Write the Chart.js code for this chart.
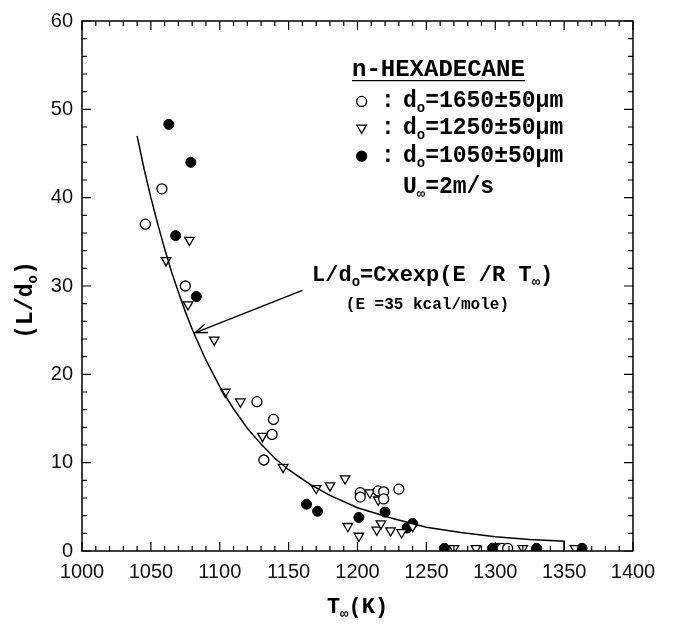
<!DOCTYPE html>
<html>
<head>
<meta charset="utf-8">
<script src="https://cdn.jsdelivr.net/npm/chart.js@4.4.0/dist/chart.umd.min.js"></script>
<style>
html, body { margin: 0; padding: 0; background: #fff; }
canvas { display: block; }
</style>
</head>
<body>
<canvas id="chart" width="675" height="627"></canvas>
<script>
// d0 = 1650 +- 50 um (open circles)
const circleT = [1046, 1058, 1075, 1127, 1132, 1138, 1139, 1202, 1202, 1215, 1219, 1219, 1230, 1305, 1309];
const circleL = [37.0, 41.0, 30.0, 16.9, 10.3, 13.2, 14.9, 6.6, 6.1, 6.8, 6.7, 5.9, 7.0, 0.3, 0.3];

// d0 = 1250 +- 50 um (open triangles)
const triT = [1061, 1078, 1077, 1096, 1104, 1115, 1131, 1146, 1170, 1180, 1191, 1193, 1201, 1209, 1214, 1215, 1217, 1224, 1232, 1240, 1270, 1286, 1320, 1358];
const triL = [32.9, 35.2, 27.9, 23.9, 18.0, 16.9, 13.0, 9.5, 7.1, 7.4, 8.2, 2.8, 1.7, 6.6, 2.4, 5.8, 3.1, 2.3, 2.1, 2.8, 0.3, 0.3, 0.3, 0.3];

// d0 = 1050 +- 50 um (filled circles)
const dotT = [1063, 1079, 1068, 1083, 1163, 1171, 1201, 1220, 1236, 1240, 1263, 1298, 1302, 1330, 1363];
const dotL = [48.3, 44.0, 35.7, 28.8, 5.3, 4.5, 3.8, 4.4, 2.6, 3.1, 0.3, 0.3, 0.3, 0.3, 0.3];

// fitted curve L/d0 = C exp(E/RT)
const curveT = [1040, 1045, 1050, 1055, 1060, 1065, 1070, 1075, 1080, 1090, 1100, 1110, 1120, 1130, 1140, 1150, 1165, 1180, 1200, 1225, 1250, 1275, 1300, 1325, 1350, 1350];
const curveL = [47.0, 43.3, 40.0, 37.0, 34.2, 31.6, 29.3, 27.1, 25.1, 21.6, 18.6, 16.1, 13.9, 12.1, 10.5, 9.2, 7.6, 6.3, 4.9, 3.7, 2.7, 2.1, 1.6, 1.3, 1.1, 0];

const xTicks = [1000, 1050, 1100, 1150, 1200, 1250, 1300, 1350, 1400];
const yTicks = [0, 10, 20, 30, 40, 50, 60];

const pts = (xs, ys) => xs.map((x, i) => ({ x: x, y: ys[i] }));

const MONO = '"Liberation Mono", "DejaVu Sans Mono", monospace';

// draws text where parts with sub:true are lowered and smaller
function drawParts(ctx, parts, x, y, size, weight) {
  ctx.textAlign = 'left';
  ctx.textBaseline = 'middle';
  for (const p of parts) {
    if (p.sub) {
      ctx.font = weight + ' ' + Math.round(size * 0.62) + 'px ' + MONO;
      ctx.fillText(p.t, x, y + size * 0.32);
    } else {
      ctx.font = weight + ' ' + size + 'px ' + MONO;
      ctx.fillText(p.t, x, y);
    }
    x += ctx.measureText(p.t).width;
  }
  return x;
}

function partsWidth(ctx, parts, size, weight) {
  let w = 0;
  for (const p of parts) {
    ctx.font = weight + ' ' + (p.sub ? Math.round(size * 0.62) : size) + 'px ' + MONO;
    w += ctx.measureText(p.t).width;
  }
  return w;
}

function marker(ctx, kind, x, y) {
  ctx.save();
  ctx.lineWidth = 1.3;
  ctx.strokeStyle = '#000';
  ctx.fillStyle = kind === 'dot' ? '#000' : '#fff';
  ctx.beginPath();
  if (kind === 'tri') {
    const r = 5.5;
    ctx.moveTo(x - r * 0.866, y - r * 0.5);
    ctx.lineTo(x + r * 0.866, y - r * 0.5);
    ctx.lineTo(x, y + r);
    ctx.closePath();
  } else {
    ctx.arc(x, y, 5, 0, Math.PI * 2);
  }
  ctx.fill();
  ctx.stroke();
  ctx.restore();
}

const decor = {
  id: 'decor',
  afterDatasetsDraw(chart) {
    const ctx = chart.ctx;
    const xs = chart.scales.x, ys = chart.scales.y;
    const a = chart.chartArea;
    ctx.save();
    ctx.strokeStyle = '#000';
    ctx.fillStyle = '#000';

    // frame
    ctx.lineWidth = 1.5;
    ctx.strokeRect(a.left, a.top, a.right - a.left, a.bottom - a.top);

    // inward ticks, major and minor, on all four sides
    ctx.lineWidth = 1.2;
    ctx.beginPath();
    for (let v = 1000; v <= 1400; v += 10) {
      const px = xs.getPixelForValue(v);
      const len = v % 50 === 0 ? 9 : 5;
      ctx.moveTo(px, a.bottom); ctx.lineTo(px, a.bottom - len);
      ctx.moveTo(px, a.top); ctx.lineTo(px, a.top + len);
    }
    for (let v = 0; v <= 60; v += 2) {
      const py = ys.getPixelForValue(v);
      const len = v % 10 === 0 ? 9 : 5;
      ctx.moveTo(a.left, py); ctx.lineTo(a.left + len, py);
      ctx.moveTo(a.right, py); ctx.lineTo(a.right - len, py);
    }
    ctx.stroke();

    // legend block
    const lx = xs.getPixelForValue(1196);
    const hy = ys.getPixelForValue(54.5);
    ctx.font = 'bold 24px ' + MONO;
    ctx.textAlign = 'left';
    ctx.textBaseline = 'middle';
    const head = 'n-HEXADECANE';
    ctx.fillText(head, lx, hy);
    const hw = ctx.measureText(head).width;
    ctx.lineWidth = 1.4;
    ctx.beginPath();
    ctx.moveTo(lx, hy + 11); ctx.lineTo(lx + hw, hy + 11);
    ctx.stroke();

    const mx = xs.getPixelForValue(1203);
    const cx = xs.getPixelForValue(1217);
    const tx = xs.getPixelForValue(1233);
    const rows = [
      { kind: 'circle', y: 50.9, txt: '1650±50' },
      { kind: 'tri', y: 47.9, txt: '1250±50' },
      { kind: 'dot', y: 44.7, txt: '1050±50' }
    ];
    for (const r of rows) {
      const py = ys.getPixelForValue(r.y);
      marker(ctx, r.kind, mx, py);
      drawParts(ctx, [{ t: ':' }], cx, py, 23, 'bold');
      drawParts(ctx, [{ t: 'd' }, { t: 'o', sub: true }, { t: '=' + r.txt + 'μm' }], tx, py, 23, 'bold');
    }
    drawParts(ctx, [{ t: 'U' }, { t: '∞', sub: true }, { t: '=2m/s' }], tx, ys.getPixelForValue(41.2), 23, 'bold');

    // formula annotation
    drawParts(ctx, [{ t: 'L/d' }, { t: 'o', sub: true }, { t: '=Cxexp(E /R T' }, { t: '∞', sub: true }, { t: ')' }],
      xs.getPixelForValue(1167), ys.getPixelForValue(31.2), 22, 'bold');
    drawParts(ctx, [{ t: '(E =35 kcal/mole)' }], xs.getPixelForValue(1191.5), ys.getPixelForValue(27.8), 16, 'bold');

    // arrow to the curve
    const x0 = xs.getPixelForValue(1160), y0 = ys.getPixelForValue(29.5);
    const x1 = xs.getPixelForValue(1082), y1 = ys.getPixelForValue(24.7);
    const ang = Math.atan2(y1 - y0, x1 - x0);
    ctx.lineWidth = 1.4;
    ctx.beginPath();
    ctx.moveTo(x0, y0); ctx.lineTo(x1, y1);
    ctx.moveTo(x1 - 13 * Math.cos(ang - 0.35), y1 - 13 * Math.sin(ang - 0.35));
    ctx.lineTo(x1, y1);
    ctx.lineTo(x1 - 13 * Math.cos(ang + 0.35), y1 - 13 * Math.sin(ang + 0.35));
    ctx.stroke();

    // axis titles
    const xt = [{ t: 'T' }, { t: '∞', sub: true }, { t: '(K)' }];
    const xw = partsWidth(ctx, xt, 22, 'bold');
    drawParts(ctx, xt, (a.left + a.right) / 2 - xw / 2, 607, 22, 'bold');

    const yt = [{ t: '(L/d' }, { t: 'o', sub: true }, { t: ')' }];
    const yw = partsWidth(ctx, yt, 23, 'bold');
    ctx.translate(26, (a.top + a.bottom) / 2 + 14);
    ctx.rotate(-Math.PI / 2);
    drawParts(ctx, yt, -yw / 2, 0, 23, 'bold');
    ctx.restore();
  }
};

new Chart(document.getElementById('chart'), {
  type: 'scatter',
  data: {
    datasets: [
      {
        label: 'curve',
        data: pts(curveT, curveL),
        showLine: true,
        borderColor: '#000',
        borderWidth: 1.5,
        pointRadius: 0,
        tension: 0
      },
      {
        label: 'd0=1650',
        data: pts(circleT, circleL),
        pointStyle: 'circle',
        pointRadius: 5,
        pointBackgroundColor: '#fff',
        pointBorderColor: '#000',
        pointBorderWidth: 1.3
      },
      {
        label: 'd0=1250',
        data: pts(triT, triL),
        pointStyle: 'triangle',
        rotation: 180,
        pointRadius: 5.5,
        pointBackgroundColor: '#fff',
        pointBorderColor: '#000',
        pointBorderWidth: 1.3
      },
      {
        label: 'd0=1050',
        data: pts(dotT, dotL),
        pointStyle: 'circle',
        pointRadius: 5,
        pointBackgroundColor: '#000',
        pointBorderColor: '#000',
        pointBorderWidth: 1
      }
    ]
  },
  options: {
    responsive: false,
    animation: false,
    events: [],
    layout: { padding: { top: 15, right: 42, left: 0, bottom: 0 } },
    plugins: { legend: { display: false }, tooltip: { enabled: false } },
    scales: {
      x: {
        type: 'linear',
        min: 1000,
        max: 1400,
        afterFit(scale) { scale.height = 76; },
        afterBuildTicks(scale) { scale.ticks = xTicks.map(v => ({ value: v })); },
        grid: { display: false, drawTicks: false },
        border: { display: false },
        ticks: {
          autoSkip: false,
          maxRotation: 0,
          padding: 9,
          color: '#111',
          callback: v => String(v),
          font: { family: '"Liberation Sans", Arial, sans-serif', size: 20 }
        }
      },
      y: {
        type: 'linear',
        min: 0,
        max: 60,
        afterFit(scale) { scale.width = 82; },
        afterBuildTicks(scale) { scale.ticks = yTicks.map(v => ({ value: v })); },
        grid: { display: false, drawTicks: false },
        border: { display: false },
        ticks: {
          autoSkip: false,
          padding: 9,
          color: '#111',
          callback: v => String(v),
          font: { family: '"Liberation Sans", Arial, sans-serif', size: 20 }
        }
      }
    }
  },
  plugins: [decor]
});
</script>
</body>
</html>
